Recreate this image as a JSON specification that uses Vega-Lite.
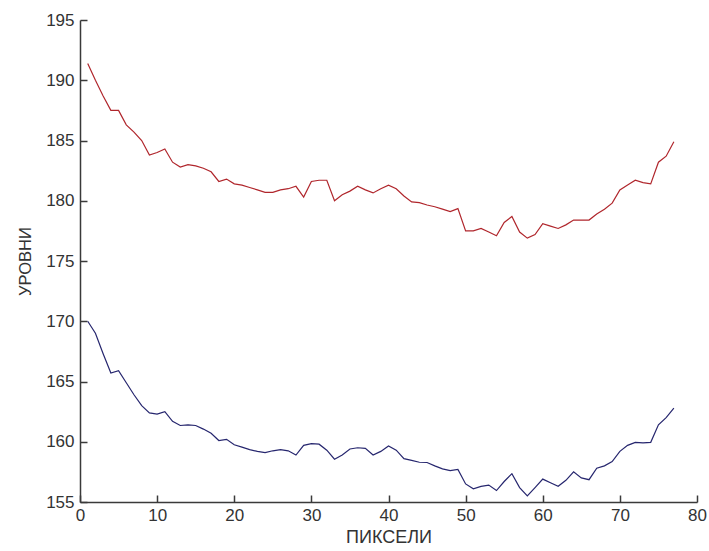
{
  "$schema": "https://vega.github.io/schema/vega-lite/v6.json",
  "width": 617,
  "height": 482,
  "autosize": {"type": "none"},
  "padding": {"left": 80, "top": 20, "right": 12, "bottom": 49},
  "background": "white",
  "config": {
    "view": {"stroke": null},
    "font": "Liberation Sans",
    "axis": {
      "grid": false,
      "domainColor": "#3a3a3a",
      "domainWidth": 1.5,
      "tickColor": "#3a3a3a",
      "tickWidth": 1.5,
      "tickSize": -7,
      "labelFont": "Liberation Sans",
      "labelFontSize": 17,
      "labelColor": "#333333",
      "titleFont": "Liberation Sans",
      "titleFontWeight": "normal",
      "titleColor": "#333333"
    }
  },
  "data": {
    "values": [
      {"x": 1, "v": 191.4, "s": "top"}, {"x": 2, "v": 190.0, "s": "top"}, {"x": 3, "v": 188.7, "s": "top"}, {"x": 4, "v": 187.5, "s": "top"}, {"x": 5, "v": 187.5, "s": "top"},
      {"x": 6, "v": 186.3, "s": "top"}, {"x": 7, "v": 185.7, "s": "top"}, {"x": 8, "v": 185.0, "s": "top"}, {"x": 9, "v": 183.8, "s": "top"}, {"x": 10, "v": 184.0, "s": "top"},
      {"x": 11, "v": 184.3, "s": "top"}, {"x": 12, "v": 183.2, "s": "top"}, {"x": 13, "v": 182.8, "s": "top"}, {"x": 14, "v": 183.0, "s": "top"}, {"x": 15, "v": 182.9, "s": "top"},
      {"x": 16, "v": 182.7, "s": "top"}, {"x": 17, "v": 182.4, "s": "top"}, {"x": 18, "v": 181.6, "s": "top"}, {"x": 19, "v": 181.8, "s": "top"}, {"x": 20, "v": 181.4, "s": "top"},
      {"x": 21, "v": 181.3, "s": "top"}, {"x": 22, "v": 181.1, "s": "top"}, {"x": 23, "v": 180.9, "s": "top"}, {"x": 24, "v": 180.7, "s": "top"}, {"x": 25, "v": 180.7, "s": "top"},
      {"x": 26, "v": 180.9, "s": "top"}, {"x": 27, "v": 181.0, "s": "top"}, {"x": 28, "v": 181.2, "s": "top"}, {"x": 29, "v": 180.3, "s": "top"}, {"x": 30, "v": 181.6, "s": "top"},
      {"x": 31, "v": 181.7, "s": "top"}, {"x": 32, "v": 181.7, "s": "top"}, {"x": 33, "v": 180.0, "s": "top"}, {"x": 34, "v": 180.5, "s": "top"}, {"x": 35, "v": 180.8, "s": "top"},
      {"x": 36, "v": 181.2, "s": "top"}, {"x": 37, "v": 180.9, "s": "top"}, {"x": 38, "v": 180.65, "s": "top"}, {"x": 39, "v": 181.0, "s": "top"}, {"x": 40, "v": 181.3, "s": "top"},
      {"x": 41, "v": 181.0, "s": "top"}, {"x": 42, "v": 180.4, "s": "top"}, {"x": 43, "v": 179.9, "s": "top"}, {"x": 44, "v": 179.85, "s": "top"}, {"x": 45, "v": 179.65, "s": "top"},
      {"x": 46, "v": 179.5, "s": "top"}, {"x": 47, "v": 179.3, "s": "top"}, {"x": 48, "v": 179.1, "s": "top"}, {"x": 49, "v": 179.35, "s": "top"}, {"x": 50, "v": 177.5, "s": "top"},
      {"x": 51, "v": 177.5, "s": "top"}, {"x": 52, "v": 177.7, "s": "top"}, {"x": 53, "v": 177.4, "s": "top"}, {"x": 54, "v": 177.1, "s": "top"}, {"x": 55, "v": 178.2, "s": "top"},
      {"x": 56, "v": 178.7, "s": "top"}, {"x": 57, "v": 177.4, "s": "top"}, {"x": 58, "v": 176.9, "s": "top"}, {"x": 59, "v": 177.2, "s": "top"}, {"x": 60, "v": 178.1, "s": "top"},
      {"x": 61, "v": 177.9, "s": "top"}, {"x": 62, "v": 177.7, "s": "top"}, {"x": 63, "v": 178.0, "s": "top"}, {"x": 64, "v": 178.4, "s": "top"}, {"x": 65, "v": 178.4, "s": "top"},
      {"x": 66, "v": 178.4, "s": "top"}, {"x": 67, "v": 178.9, "s": "top"}, {"x": 68, "v": 179.3, "s": "top"}, {"x": 69, "v": 179.8, "s": "top"}, {"x": 70, "v": 180.9, "s": "top"},
      {"x": 71, "v": 181.3, "s": "top"}, {"x": 72, "v": 181.7, "s": "top"}, {"x": 73, "v": 181.5, "s": "top"}, {"x": 74, "v": 181.4, "s": "top"}, {"x": 75, "v": 183.2, "s": "top"},
      {"x": 76, "v": 183.7, "s": "top"}, {"x": 77, "v": 184.9, "s": "top"},
      {"x": 1, "v": 170.0, "s": "bottom"}, {"x": 2, "v": 169.0, "s": "bottom"}, {"x": 3, "v": 167.3, "s": "bottom"}, {"x": 4, "v": 165.7, "s": "bottom"}, {"x": 5, "v": 165.9, "s": "bottom"},
      {"x": 6, "v": 164.9, "s": "bottom"}, {"x": 7, "v": 163.9, "s": "bottom"}, {"x": 8, "v": 163.0, "s": "bottom"}, {"x": 9, "v": 162.4, "s": "bottom"}, {"x": 10, "v": 162.3, "s": "bottom"},
      {"x": 11, "v": 162.5, "s": "bottom"}, {"x": 12, "v": 161.7, "s": "bottom"}, {"x": 13, "v": 161.35, "s": "bottom"}, {"x": 14, "v": 161.4, "s": "bottom"}, {"x": 15, "v": 161.35, "s": "bottom"},
      {"x": 16, "v": 161.05, "s": "bottom"}, {"x": 17, "v": 160.7, "s": "bottom"}, {"x": 18, "v": 160.1, "s": "bottom"}, {"x": 19, "v": 160.2, "s": "bottom"}, {"x": 20, "v": 159.75, "s": "bottom"},
      {"x": 21, "v": 159.55, "s": "bottom"}, {"x": 22, "v": 159.35, "s": "bottom"}, {"x": 23, "v": 159.2, "s": "bottom"}, {"x": 24, "v": 159.1, "s": "bottom"}, {"x": 25, "v": 159.25, "s": "bottom"},
      {"x": 26, "v": 159.35, "s": "bottom"}, {"x": 27, "v": 159.25, "s": "bottom"}, {"x": 28, "v": 158.9, "s": "bottom"}, {"x": 29, "v": 159.7, "s": "bottom"}, {"x": 30, "v": 159.85, "s": "bottom"},
      {"x": 31, "v": 159.8, "s": "bottom"}, {"x": 32, "v": 159.3, "s": "bottom"}, {"x": 33, "v": 158.55, "s": "bottom"}, {"x": 34, "v": 158.9, "s": "bottom"}, {"x": 35, "v": 159.4, "s": "bottom"},
      {"x": 36, "v": 159.5, "s": "bottom"}, {"x": 37, "v": 159.45, "s": "bottom"}, {"x": 38, "v": 158.9, "s": "bottom"}, {"x": 39, "v": 159.2, "s": "bottom"}, {"x": 40, "v": 159.65, "s": "bottom"},
      {"x": 41, "v": 159.3, "s": "bottom"}, {"x": 42, "v": 158.6, "s": "bottom"}, {"x": 43, "v": 158.45, "s": "bottom"}, {"x": 44, "v": 158.3, "s": "bottom"}, {"x": 45, "v": 158.28, "s": "bottom"},
      {"x": 46, "v": 158.0, "s": "bottom"}, {"x": 47, "v": 157.75, "s": "bottom"}, {"x": 48, "v": 157.6, "s": "bottom"}, {"x": 49, "v": 157.7, "s": "bottom"}, {"x": 50, "v": 156.5, "s": "bottom"},
      {"x": 51, "v": 156.1, "s": "bottom"}, {"x": 52, "v": 156.3, "s": "bottom"}, {"x": 53, "v": 156.4, "s": "bottom"}, {"x": 54, "v": 155.95, "s": "bottom"}, {"x": 55, "v": 156.7, "s": "bottom"},
      {"x": 56, "v": 157.35, "s": "bottom"}, {"x": 57, "v": 156.2, "s": "bottom"}, {"x": 58, "v": 155.5, "s": "bottom"}, {"x": 59, "v": 156.2, "s": "bottom"}, {"x": 60, "v": 156.9, "s": "bottom"},
      {"x": 61, "v": 156.6, "s": "bottom"}, {"x": 62, "v": 156.3, "s": "bottom"}, {"x": 63, "v": 156.8, "s": "bottom"}, {"x": 64, "v": 157.5, "s": "bottom"}, {"x": 65, "v": 157.0, "s": "bottom"},
      {"x": 66, "v": 156.85, "s": "bottom"}, {"x": 67, "v": 157.8, "s": "bottom"}, {"x": 68, "v": 158.0, "s": "bottom"}, {"x": 69, "v": 158.35, "s": "bottom"}, {"x": 70, "v": 159.2, "s": "bottom"},
      {"x": 71, "v": 159.7, "s": "bottom"}, {"x": 72, "v": 159.95, "s": "bottom"}, {"x": 73, "v": 159.9, "s": "bottom"}, {"x": 74, "v": 159.95, "s": "bottom"}, {"x": 75, "v": 161.4, "s": "bottom"},
      {"x": 76, "v": 162.0, "s": "bottom"}, {"x": 77, "v": 162.8, "s": "bottom"}
    ]
  },
  "mark": {"type": "line", "strokeWidth": 1.2, "clip": true},
  "encoding": {
    "x": {
      "field": "x", "type": "quantitative",
      "scale": {"domain": [0, 80], "nice": false, "zero": false},
      "axis": {"title": "ПИКСЕЛИ", "titleFontSize": 18, "values": [0, 10, 20, 30, 40, 50, 60, 70, 80], "labelPadding": 12, "titlePadding": 5, "labelFlush": false}
    },
    "y": {
      "field": "v", "type": "quantitative",
      "scale": {"domain": [155, 195], "nice": false, "zero": false},
      "axis": {"title": "УРОВНИ", "titleFontSize": 16.5, "values": [155, 160, 165, 170, 175, 180, 185, 190, 195], "labelPadding": 13, "titlePadding": 12, "labelFlush": false}
    },
    "color": {
      "field": "s", "type": "nominal",
      "scale": {"domain": ["top", "bottom"], "range": ["#b0262c", "#26266e"]},
      "legend": null
    },
    "detail": {"field": "s"}
  }
}
